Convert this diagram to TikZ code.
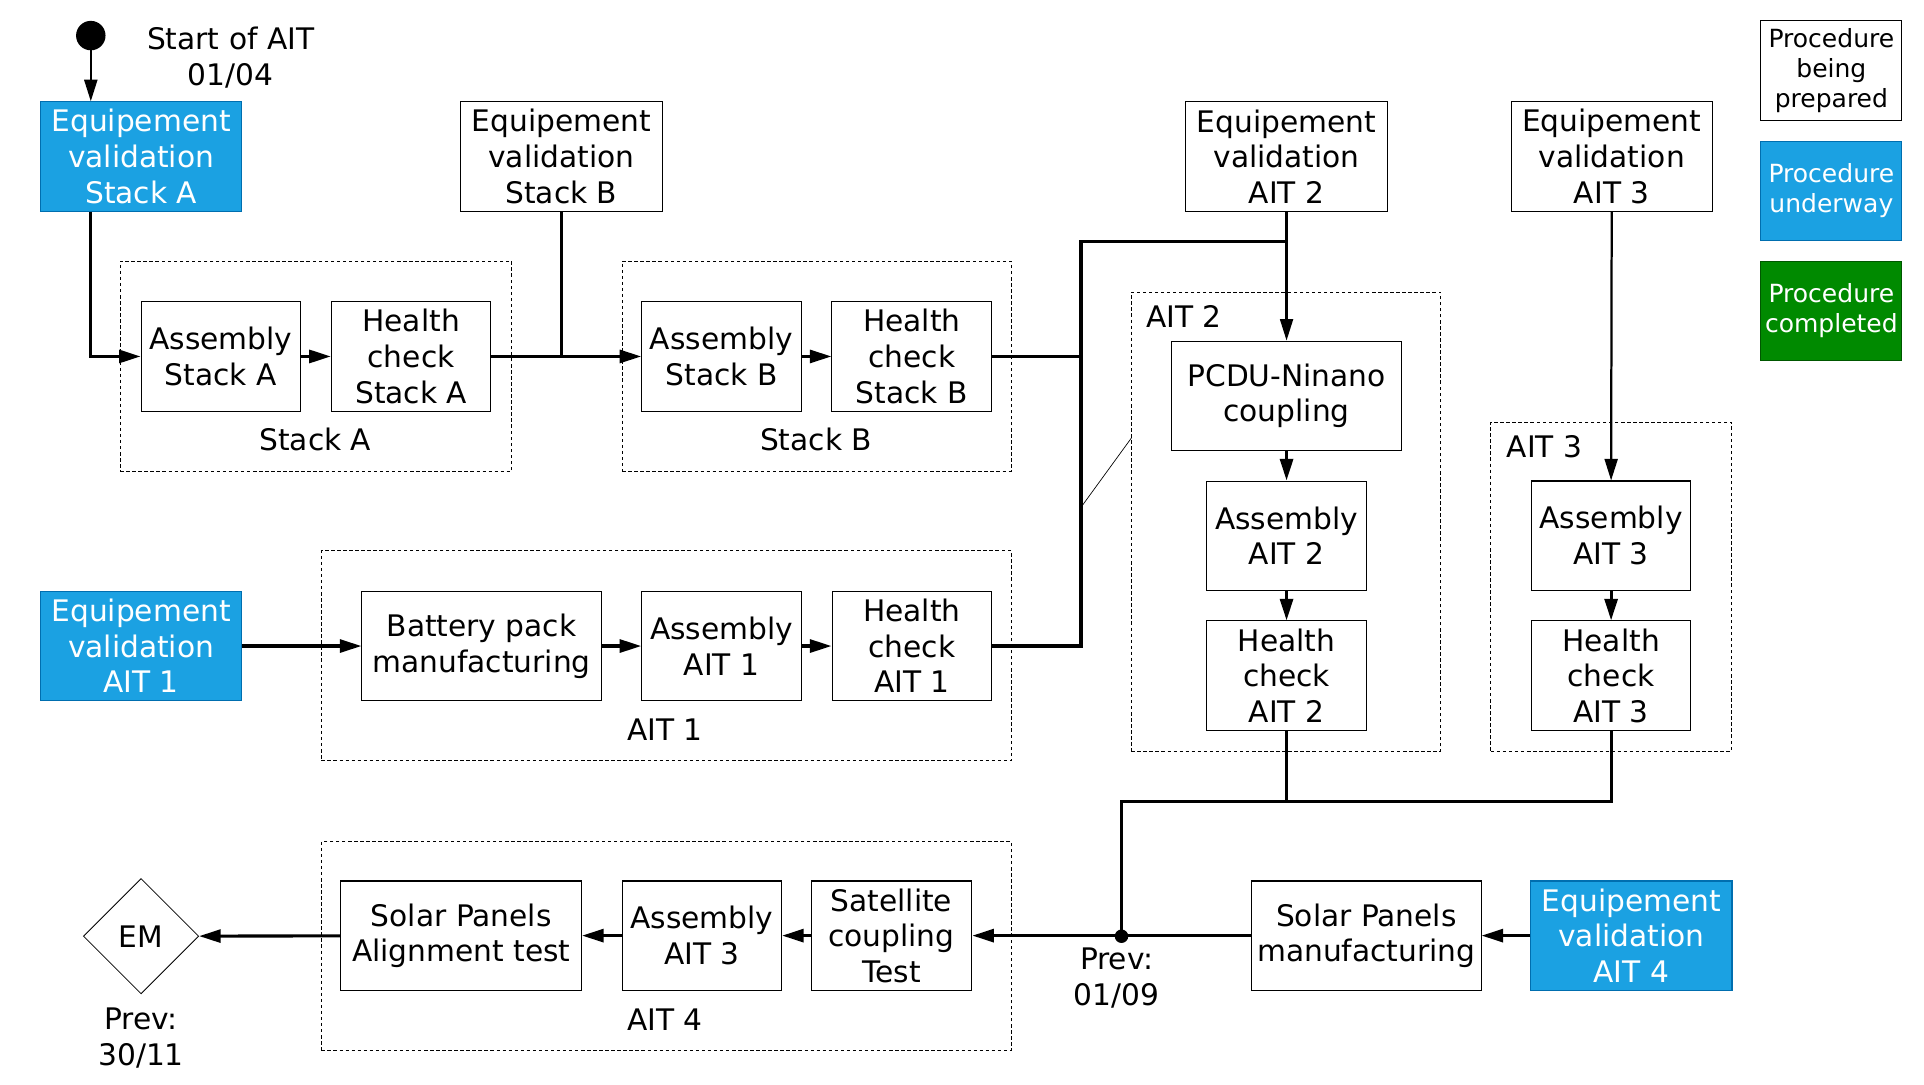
\documentclass[tikz,border=0pt]{standalone}
\usepackage{fontspec}
\setmainfont{DejaVu Sans}
\usetikzlibrary{positioning,shapes.geometric,arrows.meta}

\definecolor{procblue}{HTML}{1BA1E2}
\definecolor{procblueline}{HTML}{006EAF}
\definecolor{procgreen}{HTML}{008A00}
\definecolor{procgreenline}{HTML}{005700}

\begin{document}
\begin{tikzpicture}
[
  x=0.025cm, y=-0.025cm,
  >={Triangle[length=12.5pt,width=7.5pt]},
  box/.style={draw, line width=0.6pt, minimum width=3.25cm, minimum height=2.225cm, align=center, inner sep=0pt},
  underway/.style={box, fill=procblue, draw=procblueline, text=white},
  done/.style={box, fill=procgreen, draw=procgreenline, text=white},
  legend/.style={minimum width=2.875cm, minimum height=2.025cm, font=\fontsize{14.5}{17.4}\selectfont},
  group/.style={draw, line width=0.5pt, dash pattern=on 2pt off 1.5pt, inner sep=0pt},
  flow/.style={line width=1.8pt},
  feed/.style={line width=1.3pt},
  on grid,
  font=\fontsize{17.2}{20.6}\selectfont
]
 \useasboundingbox (0,0) rectangle (1568,883.5);

 % groups
 \node[group, minimum width=7.975cm, minimum height=4.275cm] (grpA) at (257.5,298.5) {};
 \node[group, minimum width=7.925cm, minimum height=4.275cm] (grpB) at (665.5,298.5) {};
 \node[group, minimum width=6.3cm, minimum height=9.35cm] (grpAITtwo) at (1048,425) {};
 \node[group, minimum width=4.9cm, minimum height=6.7cm] (grpAITthree) at (1313,478) {};
 \node[group, minimum width=14.05cm, minimum height=4.275cm] (grpAITone) at (543,534.5) {};
 \node[group, minimum width=14.05cm, minimum height=4.25cm] (grpAITfour) at (543,771) {};

 \node (lblA) at (257,358) {Stack A};
 \node (lblB) at (665,358) {Stack B};
 \node[anchor=west] (lblAITtwo) at (929,258) {AIT 2};
 \node[anchor=west] (lblAITthree) at (1223,364) {AIT 3};
 \node (lblAITone) at (542,595) {AIT 1};
 \node (lblAITfour) at (542,831) {AIT 4};

 % start
 \fill (74,29) circle (12) coordinate (start);
 \node[align=center] (startLbl) at (188,47) {Start of AIT\\01/04};

 % equipment validation
 \node[underway, minimum width=4.1cm] (eqA) at (115,127.5) {Equipement\\validation\\Stack A};
 \node[box, minimum width=4.1cm] (eqB) at (457.5,127.5) {Equipement\\validation\\Stack B};
 \node[box, minimum width=4.1cm] (eqAITtwo) at (1048.5,127.5) {Equipement\\validation\\AIT 2};
 \node[box, minimum width=4.1cm] (eqAITthree) at (1313.5,127.5) {Equipement\\validation\\AIT 3};
 \node[underway, minimum width=4.1cm] (eqAITone) at (115,526.5) {Equipement\\validation\\AIT 1};
 \node[underway, minimum width=4.1cm] (eqAITfour) at (1329.5,762.5) {Equipement\\validation\\AIT 4};

 % stacks
 \node[box] (asmA) at (180,290.5) {Assembly\\Stack A};
 \node[box] (hcA) [right=3.875cm of asmA] {Health\\check\\Stack A};
 \node[box] (asmB) at (588,290.5) {Assembly\\Stack B};
 \node[box] (hcB) [right=3.875cm of asmB] {Health\\check\\Stack B};

 % AIT 1
 \node[box, minimum width=4.875cm] (battery) at (392.5,526.5) {Battery pack\\manufacturing};
 \node[box] (asmAITone) [right=4.8875cm of battery] {Assembly\\AIT 1};
 \node[box] (hcAITone) [right=3.875cm of asmAITone] {Health\\check\\AIT 1};

 % AIT 2
 \node[box, minimum width=4.675cm] (pcdu) at (1048.5,322.5) {PCDU-Ninano\\coupling};
 \node[box] (asmAITtwo) [below=2.85cm of pcdu] {Assembly\\AIT 2};
 \node[box] (hcAITtwo) [below=2.85cm of asmAITtwo] {Health\\check\\AIT 2};

 % AIT 3
 \node[box] (asmAITthree) at (1313,436.5) {Assembly\\AIT 3};
 \node[box] (hcAITthree) [below=2.85cm of asmAITthree] {Health\\check\\AIT 3};

 % AIT 4
 \node[box, minimum width=4.675cm] (solarMan) at (1113.5,762.5) {Solar Panels\\manufacturing};
 \node[box, minimum width=3.275cm] (satCoup) at (726.5,762.5) {Satellite\\coupling\\Test};
 \node[box] (asmAITfour) [left=3.8625cm of satCoup] {Assembly\\AIT 3};
 \node[box, minimum width=4.9cm] (solarAlign) [left=4.9cm of asmAITfour] {Solar Panels\\Alignment test};
 \node[draw, diamond, aspect=1, minimum width=2.35cm, minimum height=2.35cm, inner sep=0pt, line width=0.5pt] (em) at (115,763) {EM};
 \node[align=center] (prevEM) at (115,846) {Prev:\\30/11};

 % legend
 \node[box, legend] (prep) at (1492.5,57.5) {Procedure\\being\\prepared};
 \node[underway, legend] (under) at (1492.5,155.5) {Procedure\\underway};
 \node[done, legend] (compl) at (1492.5,253.5) {Procedure\\completed};

 % connectors
 \coordinate (busTop) at (881,197);
 \coordinate (merge) at (914,653);
 \coordinate (jct) at (914,763);
 \draw[feed,->] (start) -- (eqA.north -| start);
 \draw[flow,->] (eqA.south -| start) |- (asmA.west);
 \draw[flow,->] (asmA) -- (hcA);
 \draw[flow,->] (hcA) -- (asmB);
 \draw[flow] (eqB.south) -- (eqB.south |- hcA.east);
 \draw[flow,->] (asmB) -- (hcB);
 \draw[flow] (hcB.east) -- (hcB.east -| busTop);
 \draw[flow] (hcAITone.east) -| (busTop) -- (busTop -| pcdu.north);
 \draw[feed,->] (eqAITtwo.south) -- (pcdu.north);
 \draw[flow,->] (pcdu) -- (asmAITtwo);
 \draw[flow,->] (asmAITtwo) -- (hcAITtwo);
 \draw[feed,->] (eqAITthree.south) -- (asmAITthree.north);
 \draw[flow,->] (asmAITthree) -- (hcAITthree);
 \draw[flow,->] (eqAITone) -- (battery);
 \draw[flow,->] (battery) -- (asmAITone);
 \draw[flow,->] (asmAITone) -- (hcAITone);
 \draw[flow] (hcAITthree.south) |- (merge) -- (jct);
 \draw[flow] (hcAITtwo.south) -- (hcAITtwo.south |- merge);
 \draw[flow,->] (eqAITfour) -- (solarMan);
 \draw[flow,->] (solarMan.west) -- (satCoup.east);
 \draw[flow,->] (satCoup) -- (asmAITfour);
 \draw[flow,->] (asmAITfour) -- (solarAlign);
 \draw[flow,->] (solarAlign) -- (em);
 \fill (jct) circle (5.5);
 \node[align=center] (prevJct) at (910,797) {Prev:\\01/09};
 \draw[line width=0.4pt] (922,357) -- (882,412);
\end{tikzpicture}
\end{document}
